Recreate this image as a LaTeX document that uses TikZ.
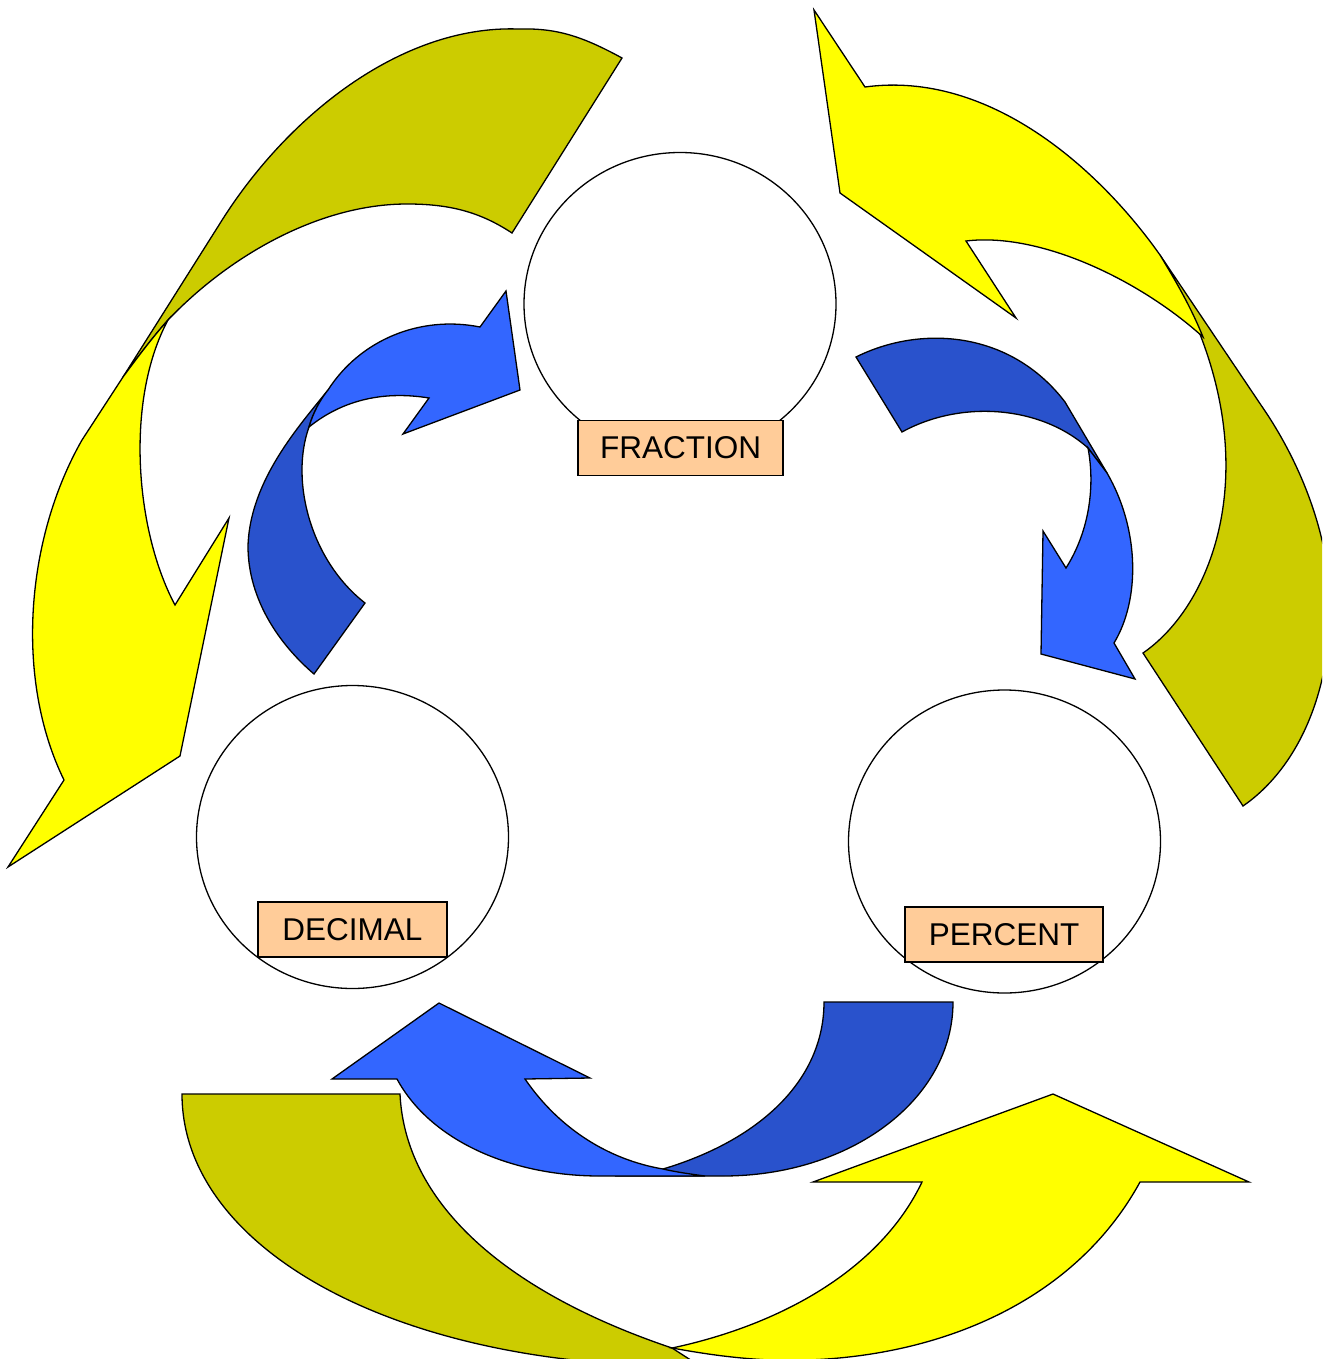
\documentclass[tikz,border=0pt]{standalone}
\usepackage{fontspec}
\setmainfont{Liberation Sans}
\usetikzlibrary{shapes.geometric}
\definecolor{yel}{HTML}{FFFF00}
\definecolor{oli}{HTML}{CCCC00}
\definecolor{lblue}{HTML}{3366FF}
\definecolor{dblue}{HTML}{2952CC}
\definecolor{peach}{HTML}{FFCC99}
\begin{document}
\begin{tikzpicture}[x=1pt,y=-1pt,line join=miter,
  band/.style={draw=black,line width=1.3pt},
  yband/.style={band,fill=yel},
  oband/.style={band,fill=oli},
  lband/.style={band,fill=lblue},
  dband/.style={band,fill=dblue},
  ring/.style={draw=black,line width=1.3pt,ellipse,minimum width=312pt,minimum height=303pt,inner sep=0pt},
  lbl/.style={draw=black,line width=1.3pt,fill=peach,inner sep=0pt,minimum height=55pt,
    font=\fontsize{31.5}{36}\selectfont,text=black}]
\useasboundingbox (0,0) rectangle (1322,1359);
\clip (0,0) rectangle (1322,1359);
\fill[white] (0,0) rectangle (1322,1359);

% ---- big arrow, top left (olive back, yellow front) ----
\path[oband] (622,58) .. controls (580,35) and (555,28) .. (518,29)
  .. controls (400,25) and (285,118) .. (219,225) -- (123,377)
  .. controls (137,358) and (152,338) .. (168,320)
  .. controls (230,255) and (320,204) .. (407,204)
  .. controls (450,204) and (480,212) .. (512,233) -- cycle;
\path[yband] (168,320) .. controls (125,400) and (135,530) .. (175,605)
  -- (229,518) -- (180,756) -- (8,867) -- (64,780)
  .. controls (15,680) and (25,540) .. (82,440) -- (123,377)
  .. controls (137,358) and (152,338) .. (168,320) -- cycle;

% ---- big arrow, top right ----
\path[oband] (1160,255) -- (1267,414)
  .. controls (1305,472) and (1332,545) .. (1330,615)
  .. controls (1328,700) and (1295,770) .. (1243,806) -- (1143,653)
  .. controls (1220,600) and (1275,440) .. (1160,255) -- cycle;
\path[yband] (814,10) -- (865,87)
  .. controls (990,70) and (1100,170) .. (1160,255)
  .. controls (1175,280) and (1190,305) .. (1203,337)
  .. controls (1140,280) and (1040,232) .. (966,241)
  -- (1016,318) -- (840,193) -- cycle;

% ---- big arrow, bottom ----
\path[oband] (182,1094) -- (400,1094)
  .. controls (405,1200) and (500,1290) .. (672,1348) -- (700,1366)
  .. controls (400,1370) and (182,1250) .. (182,1094) -- cycle;
\path[yband] (922,1182) -- (813,1182) -- (1053,1094) -- (1249,1182) -- (1140,1182)
  .. controls (1070,1310) and (920,1365) .. (770,1360)
  .. controls (730,1358) and (700,1353) .. (672,1348)
  .. controls (780,1325) and (880,1270) .. (922,1182) -- cycle;

% ---- blue arrow, upper left ----
\path[dband] (314,674) .. controls (280,645) and (248,600) .. (248,546)
  .. controls (250,480) and (300,425) .. (328,390)
  .. controls (320,400) and (313,413) .. (309,427)
  .. controls (290,480) and (310,560) .. (365,603) -- cycle;
\path[lband] (480,327) -- (506,291) -- (520,390) -- (403,434) -- (429,398)
  .. controls (380,390) and (340,402) .. (309,427)
  .. controls (313,413) and (320,400) .. (328,390)
  .. controls (360,340) and (420,315) .. (480,327) -- cycle;

% ---- blue arrow, upper right ----
\path[dband] (856,357) .. controls (920,325) and (1010,330) .. (1065,402)
  -- (1107,473) -- (1088,448)
  .. controls (1040,405) and (960,400) .. (902,432) -- cycle;
\path[lband] (1107,473) .. controls (1140,530) and (1140,600) .. (1114,643)
  -- (1135,679) -- (1041,654) -- (1043,531) -- (1066,568)
  .. controls (1090,530) and (1095,485) .. (1088,448) -- cycle;

% ---- blue arrow, bottom ----
\path[dband] (824,1002) -- (953,1002)
  .. controls (953,1100) and (850,1176) .. (723,1176) -- (615,1176)
  .. controls (635,1174) and (650,1172) .. (663,1169)
  .. controls (760,1140) and (824,1080) .. (824,1002) -- cycle;
\path[lband] (397,1079) -- (332,1079) -- (439,1003) -- (590,1078) -- (525,1079)
  .. controls (560,1130) and (610,1160) .. (663,1169)
  .. controls (676,1172) and (690,1174) .. (705,1176) -- (600,1176)
  .. controls (510,1176) and (430,1140) .. (397,1079) -- cycle;

% ---- circles and labels ----
\node[ring] (fraction) at (680,304) {};
\node[ring] (decimal) at (352.5,837) {};
\node[ring] (percent) at (1004.5,841.5) {};
\node[lbl,minimum width=205pt] (fractionlbl) at (680.5,448) {FRACTION};
\node[lbl,minimum width=189pt] (decimallbl) at (352.5,929.5) {DECIMAL};
\node[lbl,minimum width=198pt] (percentlbl) at (1004,934.5) {PERCENT};
\end{tikzpicture}
\end{document}
